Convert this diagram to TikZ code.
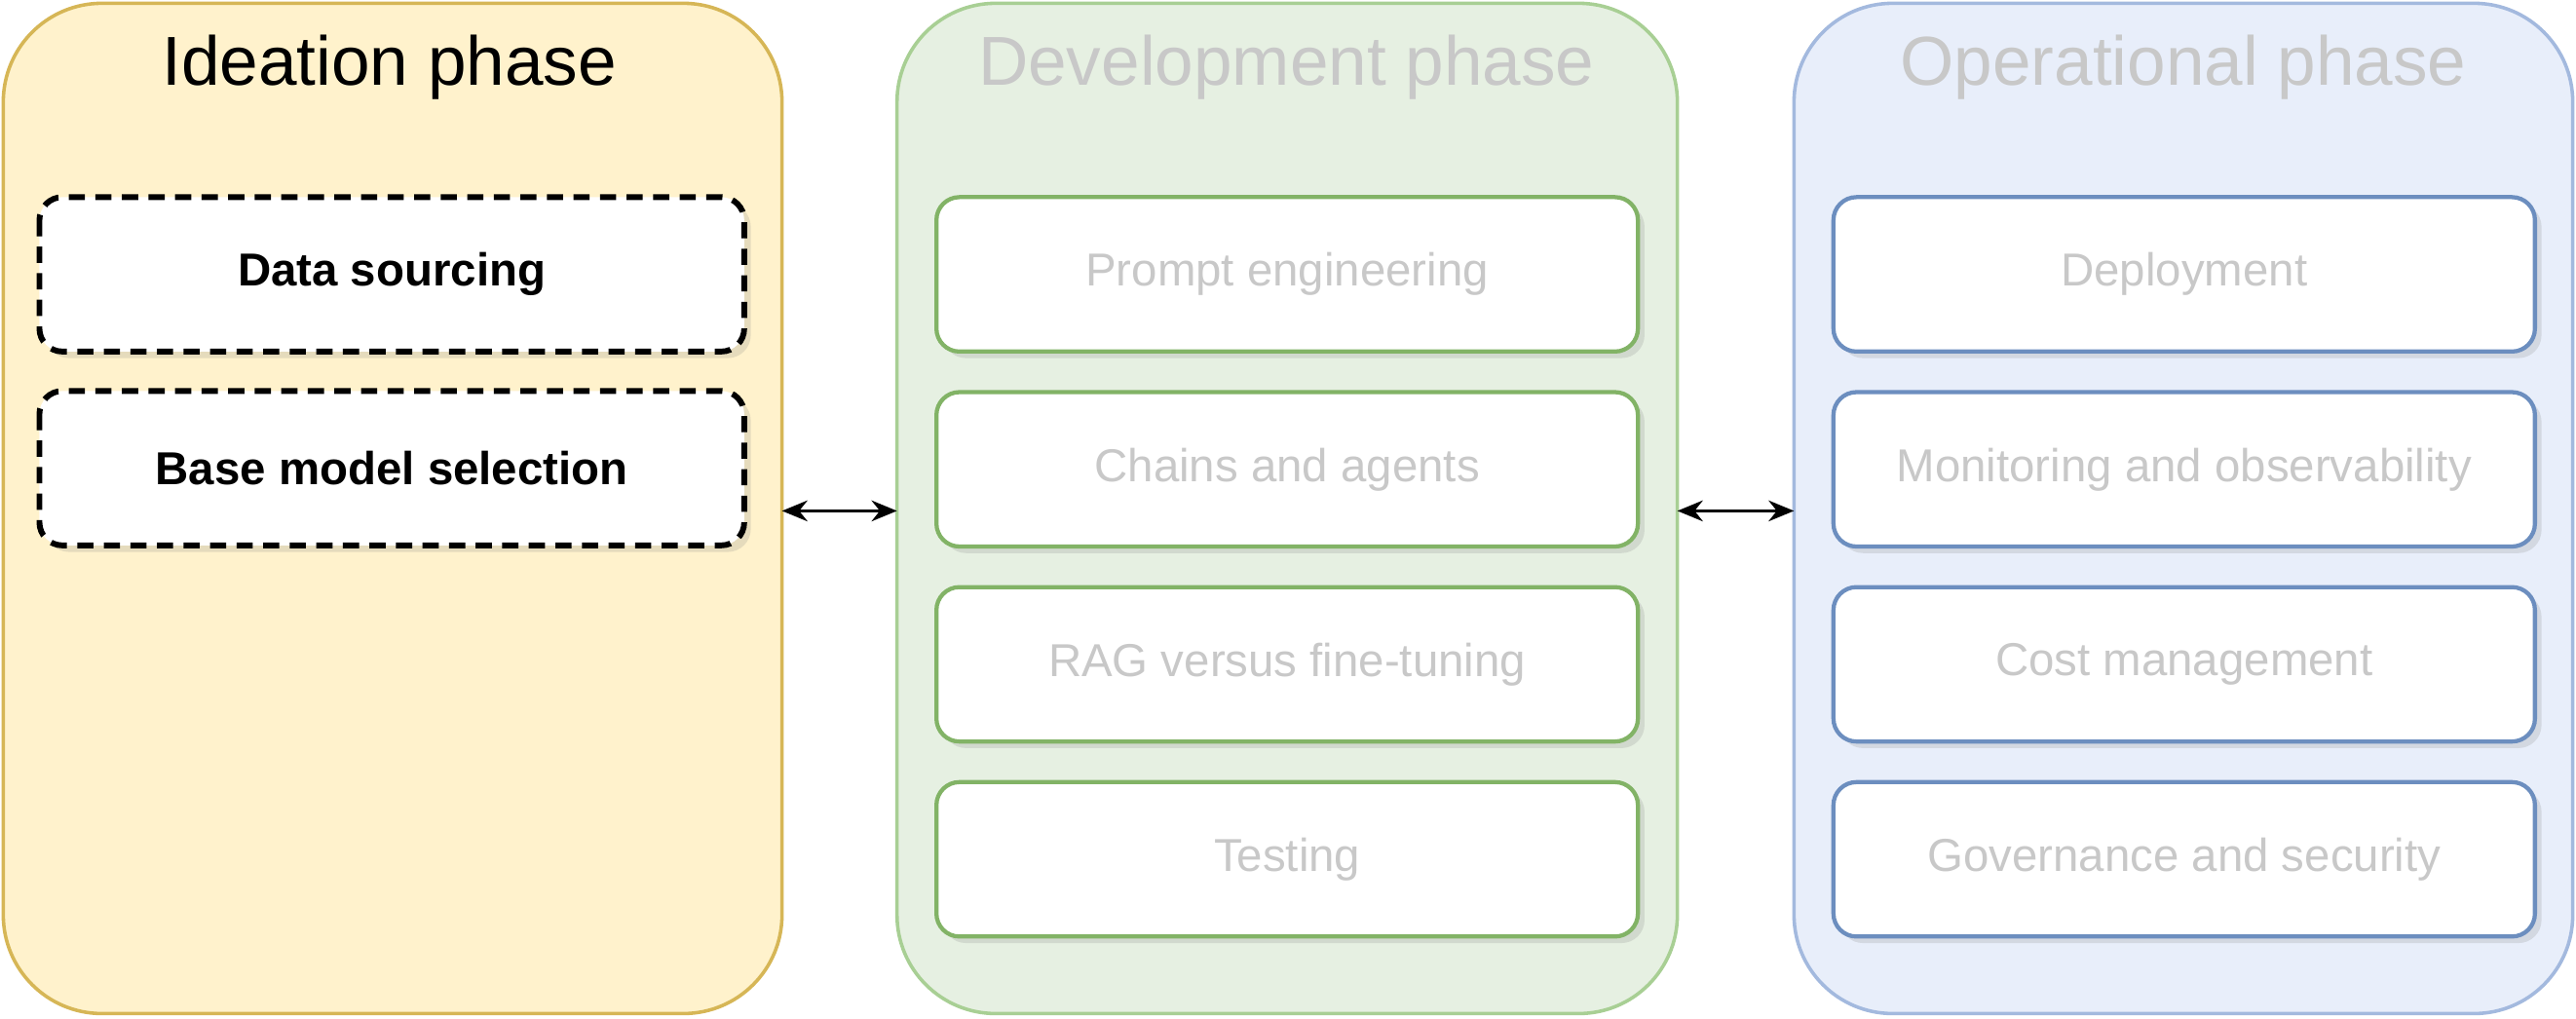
\documentclass[tikz,border=0pt]{standalone}
\usepackage{fontspec}
\setmainfont{Liberation Sans}
\usetikzlibrary{shadows,arrows.meta}
\definecolor{yfill}{HTML}{FFF2CC}\definecolor{ydraw}{HTML}{D6B656}
\definecolor{gfill}{HTML}{E6F0E2}\definecolor{gdraw}{HTML}{A8CF94}
\definecolor{bfill}{HTML}{E8EEFA}\definecolor{bdraw}{HTML}{A3B9DE}
\definecolor{gbox}{HTML}{82B366}\definecolor{bbox}{HTML}{6C8EBF}
\definecolor{faded}{HTML}{C8C8C8}
\begin{document}
\begin{tikzpicture}[x=0.05cm,y=-0.05cm,
 phase/.style={rounded corners=60*0.05cm,line width=3pt},
 title/.style={font=\fontsize{60}{70}\selectfont},
 item/.style={rounded corners=0.7cm,line width=3.6pt,fill=white,
   drop shadow={shadow xshift=0.2cm,shadow yshift=-0.2cm,opacity=0.2},
   font=\fontsize{40}{48}\selectfont},
 arr/.style={{Stealth[length=22pt,width=18pt]}-{Stealth[length=22pt,width=18pt]},line width=3pt}]
\useasboundingbox (0,0) rectangle (1568,620);
\draw[phase,fill=yfill,draw=ydraw] (2,2) rectangle (476,617);
\draw[phase,fill=gfill,draw=gdraw] (546,2) rectangle (1021,617);
\draw[phase,fill=bfill,draw=bdraw] (1092,2) rectangle (1566,617);
\node[title] at (237,41) {Ideation phase};
\node[title,text=faded] at (783,41) {Development phase};
\node[title,text=faded] at (1329,41) {Operational phase};
\coordinate (il) at (476,311); \coordinate (dl) at (546,311);
\coordinate (dr) at (1021,311); \coordinate (ol) at (1092,311);
\draw[item,dash pattern=on 14pt off 9pt,line width=5pt,font=\bfseries\fontsize{40}{48}\selectfont] (24,120) rectangle node{Data sourcing} (453,214);
\draw[item,dash pattern=on 14pt off 9pt,line width=5pt,font=\bfseries\fontsize{40}{48}\selectfont] (24,238) rectangle node{Base model selection} (453,332);
\foreach \t [count=\i] in {Prompt engineering,Chains and agents,RAG versus fine-tuning,Testing}{
 \pgfmathsetmacro\ya{120+(\i-1)*118.7}
 \draw[item,draw=gbox,text=faded] (570,\ya) rectangle node{\t} (997,\ya+94);
}
\foreach \t [count=\i] in {Deployment,Monitoring and observability,Cost management,Governance and security}{
 \pgfmathsetmacro\ya{120+(\i-1)*118.7}
 \draw[item,draw=bbox,text=faded] (1116,\ya) rectangle node{\t} (1543,\ya+94);
}
\draw[arr] (il) -- (dl);
\draw[arr] (dr) -- (ol);
\end{tikzpicture}
\end{document}
